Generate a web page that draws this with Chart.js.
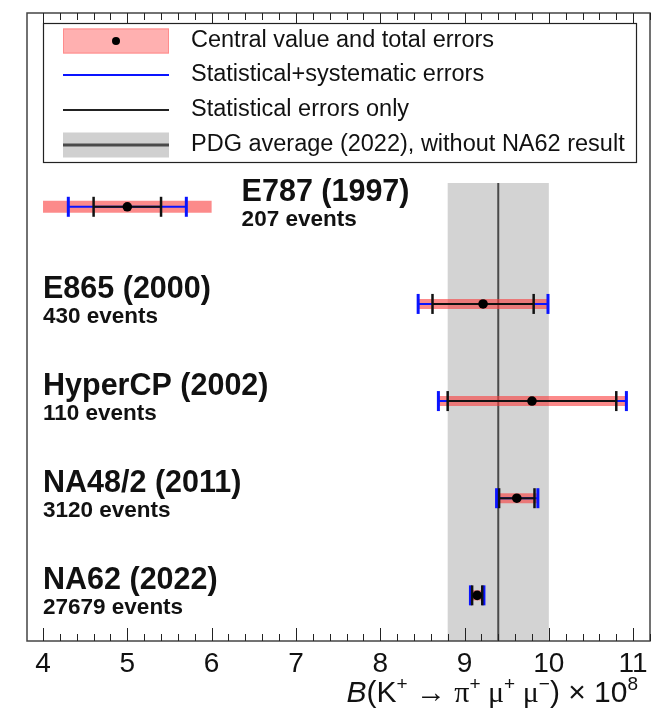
<!DOCTYPE html>
<html>
<head>
<meta charset="utf-8">
<script src="https://cdn.jsdelivr.net/npm/chart.js@4.4.1/dist/chart.umd.min.js"></script>
<style>
  html, body { margin: 0; padding: 0; background: #fff; }
  #wrap { width: 664px; height: 714px; }
</style>
</head>
<body>
<div id="wrap"><canvas id="chart" width="664" height="714"></canvas></div>
<script>
// --- DATA ---
const experiments = ['E787 (1997)', 'E865 (2000)', 'HyperCP (2002)', 'NA48/2 (2011)', 'NA62 (2022)'];
const eventCounts = ['207 events', '430 events', '110 events', '3120 events', '27679 events'];
const centralValues = [5.0, 9.22, 9.8, 9.62, 9.15];
const statLow  = [4.6, 8.62, 8.8, 9.41, 9.09];
const statHigh = [5.4, 9.82, 10.8, 9.83, 9.21];
const systLow  = [4.3, 8.45, 8.69, 9.38, 9.07];
const systHigh = [5.7, 9.99, 10.92, 9.87, 9.23];
const totalLow  = [4.0, 8.45, 8.68, 9.37, 9.07];
const totalHigh = [6.0, 9.99, 10.92, 9.87, 9.23];
const pdgAverage = 9.4;
const pdgLow = 8.8;
const pdgHigh = 10.0;
const xTicks = [4, 5, 6, 7, 8, 9, 10, 11];
const legendLabels = [
    'Central value and total errors',
    'Statistical+systematic errors',
    'Statistical errors only',
    'PDG average (2022), without NA62 result'
];

const SANS = '"Liberation Sans", Arial, sans-serif';
const SERIF = '"Liberation Serif", "Times New Roman", serif';
const rows = experiments.map((_, i) => i + 1);

// --- DATASETS ---
function segment(lo, hi, i) {
    return [{ x: lo[i], y: rows[i] }, { x: hi[i], y: rows[i] }];
}

const dotSet = {
    label: 'central',
    data: centralValues.map((v, i) => ({ x: v, y: rows[i] })),
    showLine: false,
    pointRadius: 4.8,
    pointBackgroundColor: '#000',
    pointBorderColor: '#000',
    pointBorderWidth: 0
};

const statSets = rows.map((_, i) => ({
    label: 'stat',
    data: segment(statLow, statHigh, i),
    showLine: true,
    borderColor: '#111',
    borderWidth: 2,
    pointStyle: 'line',
    rotation: 90,
    pointRadius: 10,
    pointBorderColor: '#111',
    pointBorderWidth: 2.5
}));

const systSets = rows.map((_, i) => ({
    label: 'syst',
    data: segment(systLow, systHigh, i),
    showLine: true,
    borderColor: '#0a14ff',
    borderWidth: 2,
    pointStyle: 'line',
    rotation: 90,
    pointRadius: 10,
    pointBorderColor: '#0a14ff',
    pointBorderWidth: 3
}));

const totalSets = rows.map((_, i) => ({
    label: 'total',
    data: segment(totalLow, totalHigh, i),
    showLine: true,
    borderColor: 'rgba(250, 60, 60, 0.6)',
    borderWidth: i === 0 ? 12 : 10,
    borderCapStyle: 'butt',
    pointRadius: 0
}));

// --- PLUGINS ---
const pdgBand = {
    id: 'pdgBand',
    beforeDatasetsDraw(chart) {
        const { ctx, chartArea, scales } = chart;
        const x0 = scales.x.getPixelForValue(pdgLow);
        const x1 = scales.x.getPixelForValue(pdgHigh);
        const xm = scales.x.getPixelForValue(pdgAverage);
        const top = scales.y.getPixelForValue(0.755);
        ctx.save();
        ctx.fillStyle = '#d3d3d3';
        ctx.fillRect(x0, top, x1 - x0, chartArea.bottom - top);
        ctx.strokeStyle = '#4a4a4a';
        ctx.lineWidth = 2;
        ctx.beginPath();
        ctx.moveTo(xm, top);
        ctx.lineTo(xm, chartArea.bottom);
        ctx.stroke();
        ctx.restore();
    }
};

const decorations = {
    id: 'decorations',
    afterDraw(chart) {
        const { ctx, chartArea, scales } = chart;
        const xs = scales.x, ys = scales.y;
        ctx.save();

        // frame
        ctx.strokeStyle = '#444';
        ctx.lineWidth = 1.5;
        ctx.strokeRect(chartArea.left, chartArea.top, chartArea.right - chartArea.left, chartArea.bottom - chartArea.top);

        // inward ticks, top and bottom
        ctx.strokeStyle = '#222';
        ctx.lineWidth = 1;
        for (let k = 0; k <= 37; k++) {
            const v = 3.8 + k * 0.2;
            if (v < xs.min || v > xs.max) continue;
            const major = Math.abs(v - Math.round(v)) < 1e-6;
            const len = major ? 13 : 7;
            const px = Math.round(xs.getPixelForValue(v)) + 0.5;
            ctx.beginPath();
            ctx.moveTo(px, chartArea.top);
            ctx.lineTo(px, chartArea.top + len);
            ctx.moveTo(px, chartArea.bottom);
            ctx.lineTo(px, chartArea.bottom - len);
            ctx.stroke();
        }

        // experiment labels
        ctx.fillStyle = '#111';
        ctx.textAlign = 'left';
        ctx.textBaseline = 'alphabetic';
        rows.forEach((r, i) => {
            const yRow = ys.getPixelForValue(r);
            const xLab = i === 0 ? xs.getPixelForValue(totalHigh[i]) + 30 : xs.getPixelForValue(4.0);
            ctx.font = 'bold 30.5px ' + SANS;
            ctx.fillText(experiments[i], xLab, yRow - 6);
            ctx.font = 'bold 22.5px ' + SANS;
            ctx.fillText(eventCounts[i], xLab, yRow + 19);
        });

        // legend
        const L = { left: 43, top: 23, right: 636, bottom: 162 };
        ctx.fillStyle = '#fff';
        ctx.fillRect(L.left, L.top, L.right - L.left, L.bottom - L.top);
        ctx.strokeStyle = '#222';
        ctx.lineWidth = 1.2;
        ctx.strokeRect(L.left + 0.5, L.top + 0.5, L.right - L.left, L.bottom - L.top);
        const rowY = [41, 75, 110, 145];
        const sx0 = 63, sx1 = 169;
        // red box + dot
        ctx.fillStyle = '#ffb0b0';
        ctx.fillRect(sx0, rowY[0] - 12.5, sx1 - sx0, 25);
        ctx.strokeStyle = '#ff8c8c';
        ctx.lineWidth = 1;
        ctx.strokeRect(sx0 + 0.5, rowY[0] - 12, sx1 - sx0 - 1, 24);
        ctx.fillStyle = '#000';
        ctx.beginPath();
        ctx.arc((sx0 + sx1) / 2, rowY[0], 4, 0, Math.PI * 2);
        ctx.fill();
        // blue line
        ctx.strokeStyle = '#0a14ff';
        ctx.lineWidth = 2;
        ctx.beginPath();
        ctx.moveTo(sx0, rowY[1]); ctx.lineTo(sx1, rowY[1]);
        ctx.stroke();
        // black line
        ctx.strokeStyle = '#222';
        ctx.beginPath();
        ctx.moveTo(sx0, rowY[2]); ctx.lineTo(sx1, rowY[2]);
        ctx.stroke();
        // gray band + line
        ctx.fillStyle = '#d0d0d0';
        ctx.fillRect(sx0, rowY[3] - 12.5, sx1 - sx0, 25);
        ctx.strokeStyle = '#4a4a4a';
        ctx.lineWidth = 3;
        ctx.beginPath();
        ctx.moveTo(sx0, rowY[3]); ctx.lineTo(sx1, rowY[3]);
        ctx.stroke();

        ctx.fillStyle = '#111';
        ctx.font = '23.5px ' + SANS;
        ctx.textBaseline = 'middle';
        legendLabels.forEach((t, i) => ctx.fillText(t, 191, rowY[i]));

        // axis title
        const base = 702;
        const big = 30, small = 19, rise = 12;
        const parts = [
            { t: 'B', f: 'italic ' + big + 'px ' + SANS },
            { t: '(K', f: big + 'px ' + SANS },
            { t: '+', f: small + 'px ' + SANS, up: true },
            { t: ' \u2192 ', f: big + 'px ' + SANS },
            { t: '\u03c0', f: big + 'px ' + SERIF },
            { t: '+', f: small + 'px ' + SANS, up: true },
            { t: ' \u03bc', f: big + 'px ' + SERIF },
            { t: '+', f: small + 'px ' + SANS, up: true },
            { t: ' \u03bc', f: big + 'px ' + SERIF },
            { t: '\u2212', f: small + 'px ' + SANS, up: true },
            { t: ') \u00d7 10', f: big + 'px ' + SANS },
            { t: '8', f: small + 'px ' + SANS, up: true }
        ];
        ctx.textBaseline = 'alphabetic';
        let total = 0;
        parts.forEach(p => { ctx.font = p.f; p.w = ctx.measureText(p.t).width; total += p.w; });
        let x = 638 - total;
        parts.forEach(p => {
            ctx.font = p.f;
            ctx.fillText(p.t, x, p.up ? base - rise : base);
            x += p.w;
        });

        ctx.restore();
    }
};

// --- CHART ---
new Chart(document.getElementById('chart').getContext('2d'), {
    type: 'scatter',
    data: {
        datasets: [dotSet, ...statSets, ...systSets, ...totalSets]
    },
    options: {
        responsive: false,
        animation: false,
        devicePixelRatio: 1,
        events: [],
        layout: { padding: { left: 27, right: 14, top: 9, bottom: 0 } },
        plugins: { legend: { display: false }, tooltip: { enabled: false } },
        scales: {
            x: {
                type: 'linear',
                min: 3.81,
                max: 11.2,
                afterBuildTicks: (s) => { s.ticks = xTicks.map(v => ({ value: v })); },
                afterFit: (s) => { s.height = 73; },
                grid: { display: false, drawTicks: false },
                border: { display: false },
                ticks: {
                    padding: 6,
                    color: '#111',
                    font: { family: SANS, size: 28 },
                    autoSkip: false,
                    maxRotation: 0
                }
            },
            y: {
                type: 'linear',
                reverse: true,
                min: -0.995,
                max: 5.47,
                display: false
            }
        }
    },
    plugins: [pdgBand, decorations]
});
</script>
</body>
</html>
